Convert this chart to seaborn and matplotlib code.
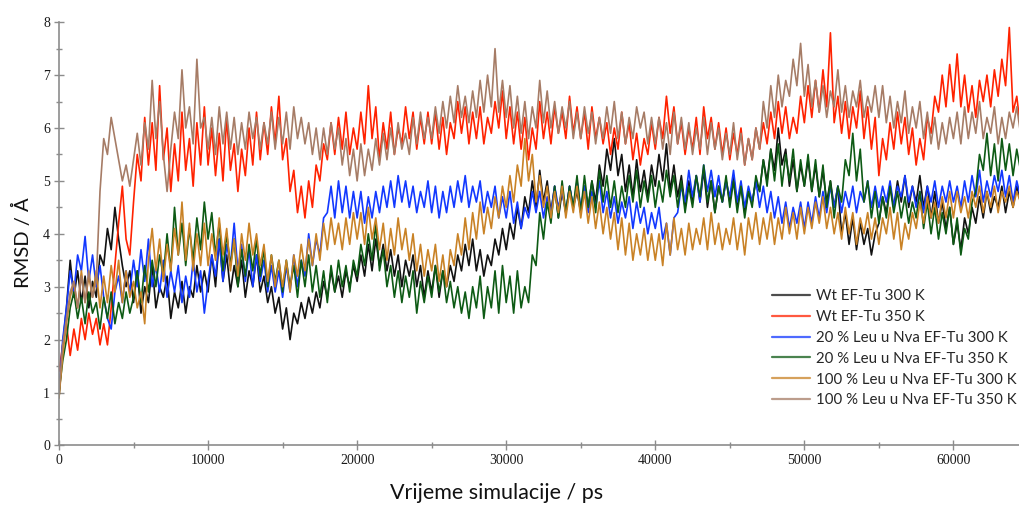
import numpy as np
import pandas as pd
import seaborn as sns
import matplotlib.pyplot as plt
from matplotlib.lines import Line2D
from matplotlib.ticker import MultipleLocator

# korak uzorkovanja (ps)
step_ps = 250

labels = [
    "Wt EF-Tu 300 K",
    "Wt EF-Tu 350 K",
    "20 % Leu u Nva EF-Tu 300 K",
    "20 % Leu u Nva EF-Tu 350 K",
    "100 % Leu u Nva EF-Tu 300 K",
    "100 % Leu u Nva EF-Tu 350 K",
]
colors = ["#111111", "#ff2200", "#1238ff", "#0d5a14", "#c98226", "#a67c66"]

# RMSD / Å, svaki red = 5000 ps
wt_300 = [
    0.9, 1.9, 2.6, 3.5, 2.8, 3.3, 2.7, 3.2, 2.6, 3.1, 2.8, 3.6, 3.4, 4.1, 3.7, 4.5, 3.9, 3.4, 3.0, 3.3,
    2.7, 3.3, 2.5, 3.0, 2.7, 3.4, 2.6, 3.0, 2.8, 3.2, 2.4, 2.9, 2.6, 3.1, 2.5, 3.0, 2.8, 3.4, 2.9, 3.3,
    2.9, 3.6, 3.0, 3.9, 3.1, 3.6, 2.9, 3.4, 3.0, 3.5, 2.8, 3.3, 3.0, 3.6, 2.9, 3.2, 2.7, 3.0, 2.5, 2.8,
    2.2, 2.6, 2.0, 2.5, 2.3, 2.7, 2.4, 2.8, 2.5, 2.9, 2.6, 3.1, 2.8, 3.3, 2.9, 3.2, 2.8, 3.3, 3.0, 3.4,
    3.1, 3.6, 3.2, 3.8, 3.3, 3.9, 3.4, 3.8, 3.3, 3.7, 3.2, 3.6, 3.0, 3.5, 3.2, 3.6, 3.0, 3.4, 2.8, 3.3,
    2.9, 3.4, 2.8, 3.3, 3.0, 3.4, 3.1, 3.6, 3.3, 3.8, 3.4, 3.9, 3.3, 3.7, 3.2, 3.6, 3.4, 3.9, 3.6, 4.1,
    3.7, 4.2, 3.9, 4.5, 4.1, 4.7, 4.4, 5.0, 4.5, 5.2, 4.6, 5.0, 4.4, 4.9, 4.3, 4.8, 4.4, 4.9, 4.5, 4.8,
    4.4, 4.9, 4.5, 5.0, 4.6, 5.3, 4.9, 5.6, 5.2, 5.8, 5.1, 5.5, 4.8, 5.3, 4.7, 5.4, 4.8, 5.2, 4.7, 5.3,
    4.9, 5.5, 5.0, 5.7, 4.8, 5.3, 4.7, 5.1, 4.5, 5.0, 4.6, 5.1, 4.6, 5.2, 4.5, 5.0, 4.4, 4.9, 4.6, 5.0,
    4.6, 5.1, 4.5, 4.9, 4.4, 4.8, 4.6, 5.0, 4.8, 5.4, 5.0, 5.6, 5.2, 6.0, 5.3, 5.6, 4.9, 5.4, 4.8, 5.3,
    4.9, 5.4, 4.8, 5.3, 4.7, 5.2, 4.6, 5.0, 4.5, 4.9, 4.0, 4.4, 3.8, 4.3, 3.7, 4.2, 3.8, 4.1, 3.6, 4.0,
    4.2, 4.7, 4.4, 4.9, 4.5, 5.0, 4.6, 5.1, 4.5, 4.9, 4.6, 5.1, 4.5, 4.9, 4.3, 4.8, 4.2, 4.6, 4.1, 4.5,
    3.8, 4.2, 3.7, 4.3, 4.0, 4.5, 4.2, 4.7, 4.3, 4.8, 4.4, 4.7, 4.5, 4.9, 4.4, 4.8, 4.5, 4.9, 4.6, 4.8,
]
wt_350 = [
    1.4, 1.9, 2.3, 1.7, 2.2, 1.8, 2.4, 2.0, 2.5, 2.1, 2.4, 1.9, 2.3, 1.9, 2.6, 3.4, 4.2, 4.9, 3.9, 3.6,
    4.6, 5.5, 5.0, 6.2, 5.3, 6.1, 5.2, 6.8, 5.4, 6.0, 4.8, 5.7, 5.0, 6.3, 5.2, 5.8, 4.9, 6.1, 5.3, 6.4,
    5.3, 6.0, 5.1, 5.9, 5.0, 6.2, 5.2, 5.7, 4.8, 5.6, 5.1, 6.0, 5.3, 6.3, 5.4, 6.1, 5.5, 6.4, 5.7, 6.6,
    5.4, 5.8, 4.8, 5.2, 4.4, 4.9, 4.3, 5.0, 4.5, 5.3, 5.0, 5.7, 5.4, 6.1, 5.5, 6.2, 5.6, 6.3, 5.5, 6.0,
    5.6, 6.3, 5.7, 6.8, 5.8, 6.4, 5.4, 6.1, 5.6, 6.3, 5.5, 6.0, 5.7, 6.4, 5.8, 6.3, 5.6, 6.2, 5.7, 6.3,
    5.7, 6.3, 5.6, 6.2, 5.5, 6.1, 5.8, 6.5, 5.9, 6.4, 5.7, 6.3, 5.8, 6.4, 5.7, 6.2, 5.9, 6.5, 6.0, 6.7,
    5.8, 6.4, 5.7, 6.3, 5.6, 6.2, 5.4, 6.0, 5.6, 6.5, 5.8, 6.3, 5.7, 6.4, 5.9, 6.3, 5.8, 6.6, 5.9, 6.4,
    5.8, 6.3, 5.6, 6.4, 5.8, 6.2, 5.7, 6.1, 5.5, 6.0, 5.6, 6.3, 5.7, 6.1, 5.4, 5.9, 5.3, 5.8, 5.5, 6.1,
    5.6, 6.2, 5.8, 6.6, 5.9, 6.4, 5.7, 6.1, 5.5, 6.0, 5.6, 6.2, 5.5, 6.4, 5.8, 6.2, 5.6, 6.1, 5.5, 6.0,
    5.4, 5.9, 5.5, 6.0, 5.3, 5.8, 5.4, 6.0, 5.6, 6.1, 5.7, 6.3, 5.8, 6.5, 5.9, 6.4, 5.8, 6.2, 5.9, 6.6,
    6.1, 6.8, 6.2, 6.9, 6.3, 7.1, 6.4, 7.8, 6.1, 6.6, 5.9, 6.5, 5.8, 6.4, 6.0, 6.7, 5.8, 6.4, 5.6, 6.2,
    5.1, 5.8, 5.4, 6.1, 5.6, 6.3, 5.7, 6.2, 5.5, 6.0, 5.3, 5.8, 5.4, 6.2, 5.9, 6.6, 6.3, 7.0, 6.4, 7.2,
    6.5, 7.4, 6.4, 7.0, 6.3, 6.8, 6.2, 6.9, 6.5, 7.0, 6.4, 7.1, 6.6, 7.3, 6.8, 7.9, 6.3, 6.6, 6.0, 6.4,
]
leu20_300 = [
    1.0, 2.0, 2.6, 3.3, 2.9, 3.6, 3.3, 3.95, 3.1, 3.6, 3.0, 3.4, 2.8, 2.4, 2.2, 2.9, 3.2, 2.7, 3.3, 2.9,
    3.5, 3.0, 3.7, 3.1, 3.9, 3.0, 3.4, 2.9, 3.5, 2.8, 3.3, 2.9, 3.4, 2.7, 3.2, 2.8, 3.5, 2.9, 3.3, 2.5,
    3.1, 3.6, 3.2, 3.9, 3.1, 3.8, 3.4, 4.2, 3.3, 3.8, 3.1, 3.7, 3.0, 3.6, 3.1, 3.5, 2.9, 3.4, 2.9, 3.3,
    2.8, 3.4, 2.9, 3.6, 3.0, 3.5, 3.2, 4.0, 3.4, 3.9, 3.6, 4.3, 4.4, 4.9, 4.3, 5.0, 4.4, 4.9, 4.3, 4.8,
    4.3, 4.8, 4.2, 4.7, 4.3, 4.8, 4.4, 4.9, 4.5, 5.0, 4.5, 5.1, 4.6, 5.0, 4.5, 4.9, 4.4, 4.8, 4.5, 5.0,
    4.4, 4.9, 4.3, 4.8, 4.4, 4.9, 4.5, 5.0, 4.6, 5.1, 4.5, 4.9, 4.6, 5.0, 4.4, 4.8, 4.5, 4.9, 4.3, 4.7,
    4.3, 4.8, 4.2, 4.6, 4.1, 4.5, 4.3, 4.8, 4.4, 4.8, 4.3, 4.7, 4.4, 4.9, 4.5, 4.8, 4.4, 4.9, 4.5, 5.0,
    4.5, 4.9, 4.4, 4.8, 4.5, 5.0, 4.4, 4.8, 4.3, 4.7, 4.2, 4.6, 4.3, 4.7, 4.1, 4.6, 4.2, 4.5, 4.0, 4.4,
    4.1, 4.5, 3.9, 4.2, 3.6, 4.3, 4.4, 4.9, 4.6, 5.2, 4.7, 5.1, 4.6, 5.3, 4.8, 5.2, 4.7, 5.1, 4.6, 5.0,
    4.7, 5.2, 4.6, 5.0, 4.5, 4.9, 4.6, 5.0, 4.5, 4.9, 4.4, 4.8, 4.3, 4.7, 4.2, 4.6, 4.1, 4.5, 4.2, 4.6,
    4.1, 4.6, 4.2, 4.7, 4.3, 4.8, 4.4, 4.9, 4.5, 4.9, 4.4, 4.8, 4.5, 4.9, 4.4, 4.8, 4.6, 5.0, 4.5, 4.9,
    4.5, 4.9, 4.6, 5.0, 4.5, 4.9, 4.7, 5.1, 4.6, 4.9, 4.5, 4.8, 4.4, 4.9, 4.6, 5.0, 4.5, 4.9, 4.6, 5.0,
    4.6, 4.9, 4.5, 5.0, 4.6, 5.1, 4.7, 5.2, 4.6, 5.0, 4.7, 5.1, 4.8, 5.2, 4.7, 5.1, 4.6, 5.0, 4.7, 5.2,
]
leu20_350 = [
    1.0, 1.6, 2.0, 2.6, 2.9, 2.4, 2.8, 2.3, 2.9, 2.5, 2.7, 2.2, 2.8, 2.4, 2.9, 2.3, 2.7, 2.4, 2.9, 2.5,
    2.8, 3.3, 2.7, 3.4, 2.9, 3.5, 3.0, 3.6, 3.2, 4.0, 3.3, 4.5, 3.6, 4.2, 3.4, 4.1, 3.5, 4.3, 3.7, 4.6,
    3.9, 4.4, 3.6, 4.2, 3.3, 4.0, 3.4, 3.9, 3.0, 3.7, 3.2, 3.8, 3.3, 3.9, 3.2, 3.7, 3.0, 3.6, 3.1, 3.5,
    2.9, 3.5, 3.0, 3.4, 2.8, 3.5, 3.0, 3.6, 2.9, 3.4, 2.8, 3.3, 2.7, 3.4, 2.9, 3.5, 3.0, 3.4, 2.9, 3.5,
    3.2, 3.8, 3.4, 4.0, 3.5, 4.2, 3.3, 3.7, 3.0, 3.4, 2.8, 3.3, 2.7, 3.2, 2.8, 3.3, 2.5, 3.1, 2.7, 3.2,
    2.8, 3.4, 2.9, 3.3, 2.7, 3.1, 2.6, 3.0, 2.5, 2.9, 2.4, 3.0, 2.6, 3.2, 2.4, 3.0, 2.6, 3.3, 2.5, 3.4,
    2.7, 3.2, 2.5, 3.3, 2.6, 3.0, 2.7, 3.6, 3.4, 4.4, 3.9, 4.6, 4.2, 4.9, 4.3, 5.0, 4.4, 4.9, 4.5, 5.1,
    4.4, 5.1, 4.5, 5.0, 4.4, 5.2, 4.6, 5.1, 4.5, 5.0, 4.4, 4.9, 4.5, 5.1, 4.6, 5.2, 4.5, 5.0, 4.6, 5.1,
    4.5, 5.0, 4.6, 5.2, 4.7, 5.1, 4.5, 5.0, 4.4, 4.9, 4.5, 5.1, 4.7, 5.3, 4.6, 5.0, 4.4, 4.9, 4.6, 5.1,
    4.5, 5.0, 4.4, 4.9, 4.3, 4.8, 4.5, 5.1, 4.8, 5.4, 4.9, 5.6, 5.0, 5.7, 4.9, 5.5, 5.0, 5.6, 4.8, 5.4,
    4.9, 5.5, 4.8, 5.4, 4.7, 5.3, 4.5, 5.0, 4.3, 4.9, 4.6, 5.4, 5.1, 5.9, 5.0, 5.6, 4.6, 5.0, 4.3, 4.8,
    4.2, 4.7, 4.3, 4.9, 4.4, 4.8, 4.3, 4.7, 4.2, 4.6, 4.3, 4.8, 4.1, 4.6, 4.0, 4.5, 3.9, 4.4, 4.0, 4.5,
    3.8, 4.3, 3.6, 4.1, 3.9, 4.6, 4.8, 5.5, 5.2, 5.9, 5.1, 5.7, 5.0, 5.8, 5.2, 5.7, 5.1, 5.6, 5.2, 5.7,
]
leu100_300 = [
    0.9, 1.7, 2.3, 2.8, 3.1, 2.6, 3.3, 2.7, 3.2, 2.8, 3.3, 2.6, 3.2, 2.7, 3.4, 2.9, 3.5, 2.7, 3.3, 2.8,
    3.1, 2.6, 2.9, 2.3, 3.5, 4.1, 3.3, 3.9, 3.1, 3.8, 3.3, 4.1, 3.6, 4.6, 3.5, 4.2, 3.3, 4.0, 3.4, 4.2,
    3.4, 4.0, 3.5, 4.3, 3.6, 4.1, 3.3, 3.9, 3.2, 4.0, 3.5, 4.2, 3.6, 4.0, 3.4, 3.8, 3.1, 3.6, 3.0, 3.5,
    3.0, 3.5, 2.9, 3.6, 3.2, 3.8, 3.3, 3.9, 3.4, 4.0, 3.5, 4.2, 3.7, 4.3, 3.8, 4.2, 3.7, 4.3, 3.8, 4.4,
    3.9, 4.4, 3.8, 4.5, 3.9, 4.3, 3.7, 4.2, 3.5, 4.1, 3.6, 4.3, 3.7, 4.1, 3.5, 4.0, 3.3, 3.8, 3.2, 3.7,
    3.3, 3.8, 3.1, 3.6, 3.0, 3.7, 3.4, 4.0, 3.6, 4.3, 3.7, 4.4, 3.9, 4.6, 4.0, 4.5, 4.1, 4.7, 4.3, 4.9,
    4.5, 5.1, 4.6, 5.3, 4.9, 5.8, 5.0, 5.5, 4.6, 5.1, 4.5, 4.9, 4.3, 4.8, 4.4, 4.9, 4.3, 4.8, 4.4, 4.9,
    4.3, 4.8, 4.2, 4.7, 4.1, 4.6, 4.0, 4.5, 3.9, 4.4, 3.7, 4.3, 3.6, 4.2, 3.5, 4.0, 3.6, 4.1, 3.5, 4.0,
    3.5, 4.0, 3.4, 4.2, 3.6, 4.3, 3.7, 4.1, 3.6, 4.2, 3.7, 4.1, 3.8, 4.3, 3.7, 4.4, 3.8, 4.2, 3.7, 4.1,
    3.8, 4.3, 3.7, 4.2, 3.6, 4.3, 3.9, 4.4, 3.8, 4.3, 3.9, 4.4, 3.8, 4.3, 3.9, 4.5, 4.0, 4.4, 3.9, 4.5,
    4.0, 4.5, 4.1, 4.6, 4.2, 4.7, 4.1, 4.5, 4.0, 4.4, 3.9, 4.5, 4.0, 4.4, 3.8, 4.3, 4.0, 4.4, 3.9, 4.3,
    3.8, 4.3, 4.0, 4.5, 3.9, 4.4, 3.7, 4.2, 3.9, 4.4, 4.1, 4.6, 4.2, 4.7, 4.3, 4.6, 4.2, 4.7, 4.3, 4.8,
    4.3, 4.8, 4.4, 4.7, 4.3, 4.8, 4.5, 4.9, 4.4, 4.8, 4.5, 4.9, 4.4, 4.8, 4.6, 4.9, 4.5, 4.8, 4.6, 4.9,
]
leu100_350 = [
    1.0, 1.9, 2.4, 2.9, 3.1, 2.6, 3.2, 2.7, 3.3, 2.8, 3.1, 4.8, 5.8, 5.5, 6.2, 5.8, 5.4, 5.0, 5.3, 4.9,
    5.4, 5.9, 5.3, 6.1, 5.6, 6.9, 5.8, 6.5, 5.5, 4.8, 5.6, 6.3, 5.8, 7.1, 6.0, 6.4, 5.7, 7.3, 6.0, 6.2,
    5.6, 6.2, 5.5, 6.4, 5.7, 6.3, 5.6, 6.2, 5.5, 6.1, 5.6, 6.3, 5.8, 6.2, 5.6, 6.1, 5.7, 6.3, 5.6, 6.2,
    5.7, 6.3, 5.6, 6.4, 5.8, 6.2, 5.7, 6.1, 5.5, 6.0, 5.4, 6.0, 5.5, 6.1, 5.6, 6.0, 5.3, 5.8, 5.1, 5.6,
    5.0, 5.7, 5.1, 5.6, 5.2, 5.8, 5.3, 5.9, 5.4, 6.0, 5.5, 6.1, 5.6, 5.9, 5.5, 6.2, 5.7, 6.3, 5.8, 6.2,
    5.8, 6.4, 5.9, 6.5, 6.0, 6.6, 6.1, 6.8, 6.2, 6.6, 6.1, 6.7, 6.2, 6.9, 6.3, 7.0, 6.4, 7.5, 6.3, 6.9,
    6.2, 6.8, 6.0, 6.6, 5.9, 6.5, 5.8, 6.4, 6.0, 6.9, 6.1, 6.7, 6.0, 6.5, 5.9, 6.4, 6.0, 6.5, 5.8, 6.3,
    5.8, 6.4, 5.9, 6.3, 5.7, 6.2, 5.8, 6.4, 5.9, 6.5, 5.8, 6.3, 5.7, 6.2, 5.8, 6.4, 6.0, 6.3, 5.7, 6.2,
    5.7, 6.2, 5.6, 6.1, 5.5, 6.3, 5.7, 6.2, 5.6, 6.1, 5.5, 6.0, 5.6, 6.2, 5.5, 6.1, 5.6, 6.0, 5.4, 5.9,
    5.5, 6.1, 5.4, 5.9, 5.3, 5.8, 5.4, 6.0, 5.6, 6.5, 6.0, 6.8, 6.2, 7.0, 6.4, 6.9, 6.6, 7.3, 6.8, 7.6,
    6.6, 7.2, 6.4, 6.9, 6.3, 6.8, 6.2, 6.7, 6.4, 7.1, 6.3, 6.8, 6.2, 6.7, 6.4, 6.9, 6.2, 6.6, 6.3, 6.8,
    6.2, 6.8, 6.1, 6.6, 6.0, 6.5, 6.1, 6.7, 5.9, 6.4, 6.0, 6.5, 5.8, 6.3, 5.7, 6.2, 5.6, 6.1, 5.7, 6.2,
    5.8, 6.3, 5.7, 6.4, 5.8, 6.3, 5.9, 6.5, 5.8, 6.2, 5.9, 6.4, 5.7, 6.2, 5.8, 6.3, 6.0, 6.4, 5.9, 6.3,
]

series = [wt_300, wt_350, leu20_300, leu20_350, leu100_300, leu100_350]
df = pd.concat(
    [pd.DataFrame({"time": np.arange(len(vals)) * step_ps, "rmsd": vals, "series": lab})
     for lab, vals in zip(labels, series)],
    ignore_index=True,
)

sns.set_style("ticks")
plt.rcParams["font.family"] = ["Lato", "DejaVu Sans"]

fig = plt.figure(figsize=(10.19, 5.05), dpi=100)
ax = fig.add_axes([59 / 1019, 1 - 445.4 / 505, 960 / 1019, 423.2 / 505])

sns.lineplot(data=df, x="time", y="rmsd", hue="series", hue_order=labels,
             palette=colors, estimator=None, sort=False, linewidth=1.2,
             legend=False, ax=ax)

ax.set_xlim(0, 64400)
ax.set_ylim(0, 8)
ax.xaxis.set_major_locator(MultipleLocator(10000))
ax.xaxis.set_minor_locator(MultipleLocator(5000))
ax.yaxis.set_major_locator(MultipleLocator(1))
ax.yaxis.set_minor_locator(MultipleLocator(0.5))

for side in ["top", "right"]:
    ax.spines[side].set_visible(False)
for side in ["left", "bottom"]:
    ax.spines[side].set_color("#8c8c8c")
    ax.spines[side].set_linewidth(1.2)

ax.tick_params(which="major", direction="inout", length=7, width=1,
               color="#8c8c8c", labelcolor="#1a1a1a", pad=3)
ax.tick_params(which="minor", direction="inout", length=4, width=1,
               color="#8c8c8c")
for lab in ax.get_xticklabels() + ax.get_yticklabels():
    lab.set_family("Liberation Serif")
    lab.set_fontsize(10)

ax.set_xlabel("Vrijeme simulacije / ps", fontsize=15.5, color="#111111")
ax.set_ylabel("RMSD / Å", fontsize=14.5, color="#111111")
ax.xaxis.set_label_coords(0.456, -0.088)
ax.yaxis.set_label_coords(-0.028, 0.48)

handles = [Line2D([0], [0], color=c, lw=1.6, alpha=0.75) for c in colors]
ax.legend(handles, labels, loc="upper left",
          bbox_to_anchor=(772 / 1019, 1 - 289 / 505),
          bbox_transform=fig.transFigure, frameon=False, fontsize=10.8,
          borderpad=0, borderaxespad=0, handlelength=2.5,
          handletextpad=0.45, labelspacing=0.46)

plt.savefig("out.png", dpi=100)
